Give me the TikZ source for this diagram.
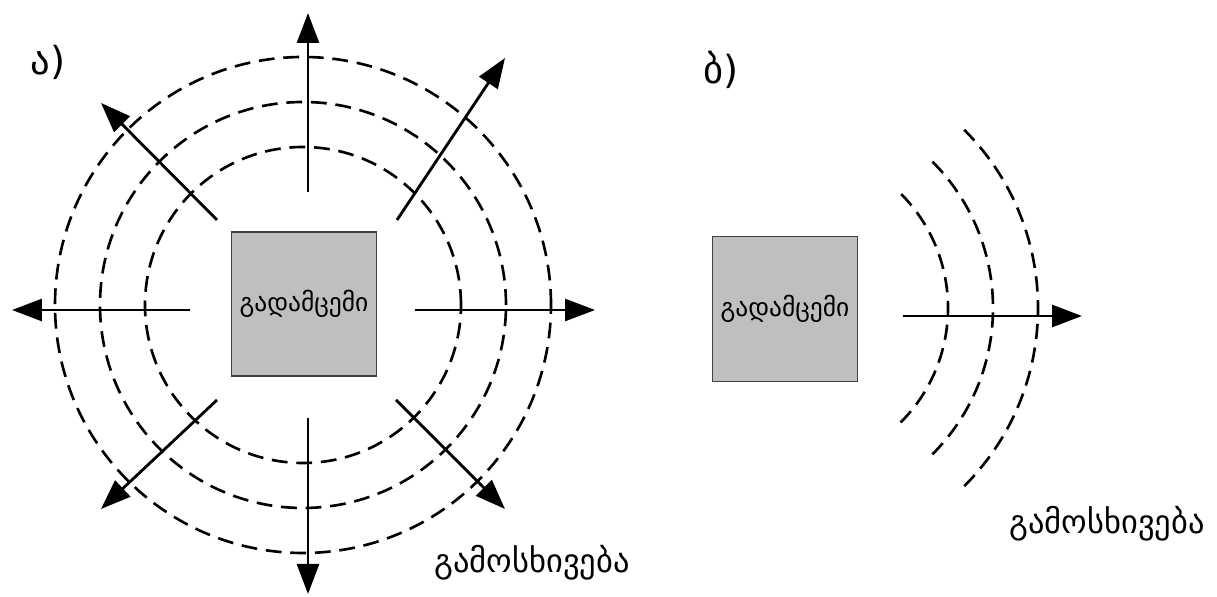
\documentclass[tikz,border=0pt]{standalone}
\usepackage{fontspec}
\newfontfamily\geofont{DejaVu Sans}
\usepackage{tikz}
\usetikzlibrary{arrows.meta, positioning}

\begin{document}
\begin{tikzpicture}[
          x=0.02cm, y=0.02cm,
          tx/.style={draw=black!75, fill=black!25, line width=1.1pt, inner sep=0pt,
                     minimum width=2.9cm, minimum height=2.88cm,
                     font=\geofont\fontsize{14.5}{17}\selectfont},
          ray/.style={line width=1.6pt, -{Triangle[length=0.6cm, width=0.44cm]}},
          wave/.style={line width=1.5pt, dash pattern=on 9pt off 5pt},
          lbl/.style={font=\geofont\fontsize{18.5}{22}\selectfont},
          tag/.style={font=\geofont\fontsize{22}{26}\selectfont}
        ]
        \useasboundingbox (0,0) rectangle (1217,597);
        % a) -- all directions
        \coordinate (cl) at (303,292);
        \node[tx] (txa) at (304,293) {გადამცემი};
        \foreach \r in {158,203,248}
          \draw[wave] (cl) circle[radius=\r];
        \coordinate (n0) at (308,405);  \coordinate (n1) at (308,584);
        \coordinate (s0) at (308,179);  \coordinate (s1) at (308,3);
        \coordinate (w0) at (190,287);  \coordinate (w1) at (12,287);
        \coordinate (e0) at (415,287);  \coordinate (e1) at (595,287);
        \coordinate (nw0) at (217,377); \coordinate (nw1) at (101,494);
        \coordinate (ne0) at (397,377); \coordinate (ne1) at (505,539);
        \coordinate (sw0) at (217,197); \coordinate (sw1) at (101,88);
        \coordinate (se0) at (396,197); \coordinate (se1) at (505,88);
        \draw[ray] (n0)--(n1);
        \draw[ray] (s0)--(s1);
        \draw[ray] (w0)--(w1);
        \draw[ray] (e0)--(e1);
        \draw[ray] (nw0)--(nw1);
        \draw[ray] (ne0)--(ne1);
        \draw[ray] (sw0)--(sw1);
        \draw[ray] (se0)--(se1);
        \node[tag] (taga) at (48,535) {ა)};
        \node[lbl] (rada) at (532,34) {გამოსხივება};
        % b) -- one direction
        \coordinate (cr) at (786,289);
        \node[tx, minimum height=2.9cm] (txb) at (785,288) {გადამცემი};
        \foreach \r in {162,207,252}
          \draw[wave, dash pattern=on 8.72pt off 4.84pt] ([shift={(-45:\r)}]cr) arc[start angle=-45, end angle=45, radius=\r];
        \coordinate (r0) at (903,281);  \coordinate (r1) at (1082,281);
        \draw[ray] (r0)--(r1);
        \node[tag] (tagb) at (721,527) {ბ)};
        \node[lbl] (radb) at (1107,73) {გამოსხივება};
      \end{tikzpicture}
\end{document}
